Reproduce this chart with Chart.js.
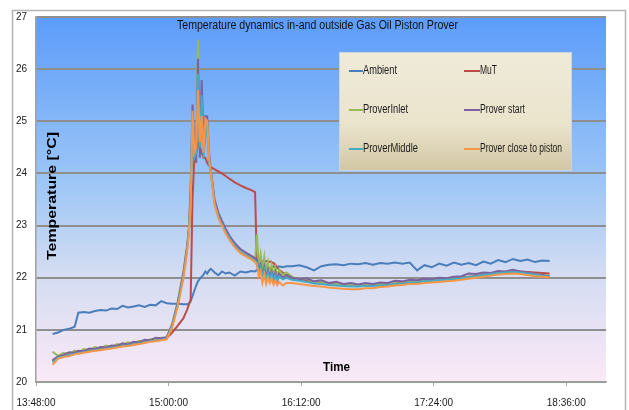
<!DOCTYPE html>
<html lang="en">
<head>
    <meta charset="UTF-8">
    <meta name="viewport" content="width=device-width, initial-scale=1.0">
    <title>Temperature dynamics</title>
    <script src="https://cdn.jsdelivr.net/npm/chart.js"></script>
    <style>
        body {
            margin: 0;
            padding: 0;
            background: #fff;
        }

        .chart-box {
            position: relative;
            width: 629px;
            height: 410px;
        }
    </style>
</head>
<body>
    <div class="chart-box">
        <canvas id="myChart"></canvas>
    </div>

    <script>
        // sample times (hh:mm)
        var times = [
            "13:57","14:00","14:03","14:06","14:09","14:11","14:14","14:17","14:20","14:23","14:26","14:29","14:32","14:35","14:38","14:41","14:44","14:47","14:50","14:53","14:56","14:59",
            "15:02","15:05","15:08","15:10","15:11","15:12","15:13","15:14","15:15","15:16","15:17","15:18","15:19","15:20","15:21","15:22","15:23",
            "15:25","15:27","15:29","15:31","15:33","15:36","15:39","15:42","15:45","15:47",
            "15:48","15:49","15:50","15:51","15:52","15:53","15:54","15:55","15:56","15:57","15:58","15:59","16:00","16:02","16:04",
            "16:07","16:11","16:15","16:19","16:23","16:27","16:31","16:35","16:39","16:43","16:47","16:51","16:55","16:59","17:03","17:07","17:11","17:15",
            "17:19","17:23","17:27","17:31","17:35","17:39","17:43","17:47","17:51","17:55","17:59","18:03","18:07","18:11","18:15","18:19","18:23","18:27"
        ];

        var ambient = [
            20.92, 20.95, 21.00, 21.02, 21.06, 21.33, 21.34, 21.33, 21.36, 21.38, 21.37, 21.41, 21.40, 21.46, 21.43, 21.45, 21.47, 21.44, 21.48, 21.47, 21.55, 21.51,
            21.50, 21.50, 21.49, 21.49, 21.50, 21.55, 21.65, 21.75, 21.85, 21.93, 21.98, 22.02, 22.06, 22.12, 22.08, 22.14, 22.17,
            22.10, 22.05, 22.12, 22.08, 22.10, 22.04, 22.12, 22.10, 22.13, 22.12,
            22.15, 22.12, 22.16, 22.20, 22.15, 22.18, 22.20, 22.17, 22.20, 22.22, 22.18, 22.20, 22.22, 22.20, 22.22,
            22.22, 22.24, 22.20, 22.14, 22.22, 22.25, 22.26, 22.24, 22.27, 22.26, 22.28, 22.25, 22.28, 22.27, 22.29, 22.27, 22.29, 22.14,
            22.24, 22.20, 22.27, 22.23, 22.29, 22.25, 22.28, 22.24, 22.31, 22.27, 22.34, 22.30, 22.36, 22.32, 22.35, 22.30, 22.33, 22.32
        ];

        var mut = [
            20.40, 20.48, 20.50, 20.53, 20.55, 20.56, 20.58, 20.60, 20.62, 20.63, 20.65, 20.66, 20.68, 20.70, 20.71, 20.73, 20.75, 20.77, 20.79, 20.80, 20.82, 20.84,
            20.95, 21.08, 21.22, 21.38, 21.48, 21.58, 23.50, 24.30, 24.40, 24.60, 24.50, 24.40, 24.30, 24.30, 24.20, 24.15, 24.12,
            24.08, 24.04, 24.00, 23.95, 23.90, 23.83, 23.77, 23.72, 23.68, 23.64,
            22.25, 22.30, 22.30, 22.32, 22.31, 22.32, 22.30, 22.31, 22.30, 22.28, 22.25, 22.20, 22.15, 22.10, 22.05,
            21.99, 21.96, 21.94, 21.91, 21.89, 21.88, 21.87, 21.86, 21.85, 21.85, 21.85, 21.86, 21.87, 21.88, 21.89, 21.91, 21.92, 21.93,
            21.94, 21.95, 21.96, 21.97, 21.98, 22.00, 22.02, 22.04, 22.06, 22.08, 22.10, 22.11, 22.12, 22.12, 22.11, 22.10, 22.09, 22.08
        ];

        var proverInlet = [
            20.58, 20.50, 20.56, 20.53, 20.60, 20.57, 20.63, 20.61, 20.67, 20.64, 20.70, 20.67, 20.73, 20.71, 20.76, 20.74, 20.79, 20.77, 20.82, 20.81, 20.85, 20.85,
            21.12, 21.55, 22.10, 22.60, 22.95, 23.60, 25.00, 24.50, 24.30, 26.57, 24.40, 25.30, 24.50, 24.90, 24.80, 24.30, 24.00,
            23.45, 23.20, 23.05, 22.90, 22.77, 22.62, 22.50, 22.44, 22.38, 22.33,
            22.83, 22.20, 22.45, 22.15, 22.40, 22.10, 22.30, 22.05, 22.25, 22.02, 22.20, 22.00, 22.15, 22.05, 22.10,
            22.02, 21.95, 21.98, 21.90, 21.92, 21.86, 21.88, 21.85, 21.86, 21.84, 21.86, 21.85, 21.88, 21.87, 21.90, 21.89, 21.93, 21.92,
            21.95, 21.94, 21.97, 21.96, 21.98, 21.99, 22.02, 22.03, 22.06, 22.07, 22.10, 22.10, 22.13, 22.11, 22.09, 22.07, 22.05, 22.04
        ];

        var proverStart = [
            20.42, 20.49, 20.52, 20.57, 20.56, 20.60, 20.59, 20.64, 20.63, 20.67, 20.66, 20.70, 20.69, 20.74, 20.72, 20.77, 20.76, 20.81, 20.80, 20.85, 20.84, 20.86,
            21.10, 21.52, 22.08, 22.58, 22.92, 23.70, 25.32, 24.60, 24.20, 26.20, 24.30, 25.79, 24.60, 25.10, 25.09, 24.40, 24.05,
            23.50, 23.25, 23.09, 22.94, 22.81, 22.66, 22.55, 22.48, 22.42, 22.37,
            22.35, 22.15, 22.25, 22.05, 22.20, 22.00, 22.15, 22.02, 22.12, 21.98, 22.10, 21.95, 22.08, 22.00, 22.05,
            22.00, 21.97, 21.99, 21.93, 21.95, 21.90, 21.92, 21.88, 21.90, 21.87, 21.90, 21.88, 21.91, 21.90, 21.94, 21.93, 21.96, 21.95,
            21.98, 21.97, 22.00, 21.99, 22.02, 22.03, 22.08, 22.07, 22.10, 22.09, 22.13, 22.12, 22.15, 22.12, 22.10, 22.07, 22.05, 22.03
        ];

        var proverMiddle = [
            20.38, 20.47, 20.49, 20.52, 20.54, 20.55, 20.57, 20.59, 20.61, 20.62, 20.64, 20.65, 20.67, 20.69, 20.70, 20.72, 20.74, 20.76, 20.78, 20.79, 20.81, 20.83,
            21.08, 21.48, 22.02, 22.52, 22.88, 23.50, 25.10, 24.30, 24.40, 25.90, 24.50, 25.50, 24.30, 24.70, 25.00, 24.20, 24.00,
            23.43, 23.18, 23.03, 22.88, 22.76, 22.61, 22.49, 22.43, 22.37, 22.32,
            22.30, 22.10, 22.20, 22.00, 22.15, 21.98, 22.10, 21.97, 22.08, 21.95, 22.05, 21.93, 22.03, 21.97, 22.00,
            21.96, 21.94, 21.92, 21.89, 21.88, 21.86, 21.85, 21.84, 21.83, 21.83, 21.84, 21.84, 21.85, 21.86, 21.88, 21.89, 21.91, 21.91,
            21.93, 21.94, 21.95, 21.96, 21.97, 21.99, 22.01, 22.03, 22.05, 22.07, 22.09, 22.10, 22.11, 22.10, 22.08, 22.06, 22.04, 22.03
        ];

        var proverClose = [
            20.33, 20.45, 20.48, 20.50, 20.53, 20.54, 20.56, 20.58, 20.60, 20.61, 20.63, 20.64, 20.66, 20.68, 20.69, 20.71, 20.73, 20.75, 20.77, 20.78, 20.80, 20.82,
            21.05, 21.45, 21.98, 22.48, 22.85, 23.40, 25.20, 24.40, 24.50, 25.60, 24.60, 25.10, 24.40, 25.05, 25.00, 24.30, 24.00,
            23.40, 23.15, 23.00, 22.85, 22.73, 22.58, 22.47, 22.41, 22.35, 22.30,
            22.25, 22.03, 22.12, 21.90, 22.05, 21.88, 22.00, 21.90, 21.98, 21.87, 21.95, 21.86, 21.92, 21.85, 21.90,
            21.90, 21.88, 21.86, 21.84, 21.83, 21.81, 21.80, 21.79, 21.78, 21.78, 21.80, 21.80, 21.82, 21.83, 21.85, 21.86, 21.88, 21.88,
            21.90, 21.91, 21.92, 21.93, 21.94, 21.96, 21.98, 22.00, 22.02, 22.04, 22.06, 22.07, 22.08, 22.07, 22.05, 22.03, 22.02, 22.01
        ];

        var seriesNames = ["Ambient", "MuT", "ProverInlet", "Prover start", "ProverMiddle", "Prover close to piston"];
        var seriesColors = ["#4a7ebb", "#be4b48", "#98b954", "#7d60a0", "#46aac5", "#f79646"];
        var xTicks = ["13:48", "15:00", "16:12", "17:24", "18:36"];
        var xMin = "13:48";
        var xMax = 1137.6; // minutes, end of the time axis

        var fontFamily = '"Liberation Sans", Arial, sans-serif';

        function toMin(s) {
            var p = s.split(':');
            return Number(p[0]) * 60 + Number(p[1]);
        }

        function fmtTime(m) {
            var h = Math.floor(m / 60);
            var mm = Math.round(m % 60);
            return h + ':' + (mm < 10 ? '0' : '') + mm + ':00';
        }

        // squeeze/stretch text to the width seen in the picture
        function fitText(ctx, text, x, y, width) {
            var w = ctx.measureText(text).width;
            ctx.save();
            ctx.translate(x, y);
            ctx.scale(width / w, 1);
            ctx.fillText(text, 0, 0);
            ctx.restore();
        }

        var allSeries = [ambient, mut, proverInlet, proverStart, proverMiddle, proverClose];

        var datasets = allSeries.map(function (arr, i) {
            return {
                label: seriesNames[i],
                data: times.map(function (t, j) { return { x: toMin(t), y: arr[j] }; }),
                borderColor: seriesColors[i],
                backgroundColor: seriesColors[i],
                borderWidth: 2,
                pointRadius: 0,
                tension: 0,
                order: allSeries.length - 1 - i
            };
        });

        var decor = {
            id: 'decor',
            beforeDraw: function (chart) {
                var ctx = chart.ctx;
                var a = chart.chartArea;
                ctx.save();
                // outer frame
                ctx.strokeStyle = '#b4b4b4';
                ctx.lineWidth = 1.5;
                ctx.beginPath();
                ctx.moveTo(12.5, 412);
                ctx.lineTo(12.5, 10.5);
                ctx.lineTo(625.5, 10.5);
                ctx.lineTo(625.5, 412);
                ctx.stroke();
                // plot area gradient
                var g = ctx.createLinearGradient(0, a.top, 0, a.bottom);
                g.addColorStop(0, '#5c9cfb');
                g.addColorStop(0.45, '#9cc6f6');
                g.addColorStop(0.7, '#d3dcf2');
                g.addColorStop(1, '#fbe9f6');
                ctx.fillStyle = g;
                ctx.fillRect(a.left, a.top, a.right - a.left, a.bottom - a.top);
                ctx.restore();
            },
            afterDraw: function (chart) {
                var ctx = chart.ctx;
                ctx.save();
                ctx.textBaseline = 'middle';
                ctx.fillStyle = '#111';

                // title
                ctx.font = '12px ' + fontFamily;
                fitText(ctx, 'Temperature dynamics in-and outside Gas Oil Piston Prover', 177, 26, 281);

                // legend box
                var lx = 339, ly = 52, lw = 233, lh = 119;
                var lg = ctx.createLinearGradient(0, ly, 0, ly + lh);
                lg.addColorStop(0, '#efebd9');
                lg.addColorStop(0.6, '#ebe4cd');
                lg.addColorStop(1, '#d2c6a3');
                ctx.fillStyle = lg;
                ctx.fillRect(lx, ly, lw, lh);
                ctx.strokeStyle = '#c9d3e6';
                ctx.lineWidth = 1;
                ctx.strokeRect(lx + 0.5, ly + 0.5, lw - 1, lh - 1);

                var colX = [[349, 363], [464, 480]];
                var rowY = [71, 110, 149];
                var labelW = [34, 17, 45, 45, 55, 82];
                ctx.font = '12px ' + fontFamily;
                seriesNames.forEach(function (name, i) {
                    var c = colX[i % 2];
                    var y = rowY[Math.floor(i / 2)];
                    ctx.strokeStyle = seriesColors[i];
                    ctx.lineWidth = 2;
                    ctx.beginPath();
                    ctx.moveTo(c[0], y);
                    ctx.lineTo(c[1], y);
                    ctx.stroke();
                    ctx.fillStyle = '#1a1a1a';
                    fitText(ctx, name, c[1], y, labelW[i]);
                });

                // axis titles inside the plot
                ctx.fillStyle = '#000';
                ctx.font = 'bold 13px ' + fontFamily;
                fitText(ctx, 'Time', 323, 367, 27);

                ctx.save();
                ctx.translate(52, 196);
                ctx.rotate(-Math.PI / 2);
                fitText(ctx, 'Temperature [\u00b0C]', -64, 0, 128);
                ctx.restore();

                ctx.restore();
            }
        };

        var ctx = document.getElementById('myChart').getContext('2d');

        var myChart = new Chart(ctx, {
            type: 'line',
            data: { datasets: datasets },
            options: {
                responsive: true,
                maintainAspectRatio: false,
                animation: false,
                layout: {
                    padding: { top: 17, right: 23, left: 0, bottom: 0 }
                },
                plugins: {
                    legend: { display: false },
                    tooltip: { enabled: false },
                    title: { display: false }
                },
                scales: {
                    x: {
                        type: 'linear',
                        min: toMin(xMin),
                        max: xMax,
                        afterBuildTicks: function (scale) {
                            scale.ticks = xTicks.map(function (t) { return { value: toMin(t) }; });
                        },
                        afterFit: function (scale) {
                            scale.height = 28;
                        },
                        grid: {
                            drawOnChartArea: false,
                            drawTicks: true,
                            tickLength: 4,
                            color: '#a8a8a8'
                        },
                        border: { color: '#a0a0a0', width: 1.5 },
                        ticks: {
                            padding: 11,
                            maxRotation: 0,
                            autoSkip: false,
                            color: '#1a1a1a',
                            font: { size: 10, family: fontFamily },
                            callback: function (v) { return fmtTime(v); }
                        }
                    },
                    y: {
                        min: 20,
                        max: 27,
                        afterFit: function (scale) {
                            scale.width = 36;
                        },
                        grid: {
                            color: '#8f8f8f',
                            lineWidth: 2,
                            drawTicks: false
                        },
                        border: { color: '#a0a0a0', width: 1.5 },
                        ticks: {
                            stepSize: 1,
                            padding: 9,
                            color: '#1a1a1a',
                            font: { size: 10, family: fontFamily }
                        }
                    }
                }
            },
            plugins: [decor]
        });
    </script>
</body>
</html>
